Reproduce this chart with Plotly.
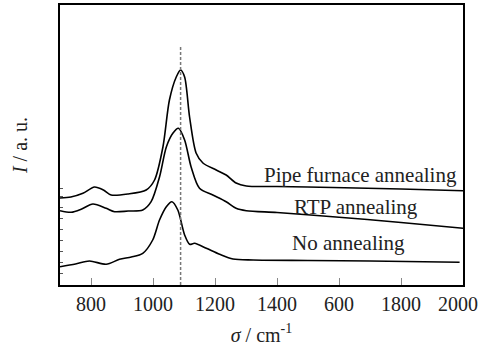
import plotly.graph_objects as go

# Wavenumber (cm^-1) and intensity (a.u.)
pipe_x = [700, 735, 774, 811, 840, 865, 920, 978, 1005, 1032, 1053, 1075, 1089, 1102, 1118, 1139, 1161, 1204, 1236, 1268, 1301, 1400, 1580, 1800, 2000]
pipe_y = [87, 88, 91.7, 98, 95, 90, 91, 95, 105, 138, 185, 208, 215, 208, 168, 132, 122, 115, 110, 102, 99, 98.5, 97.5, 96, 94.3]

rtp_x = [700, 736, 770, 806, 849, 876, 920, 967, 994, 1021, 1043, 1064, 1082, 1102, 1123, 1150, 1193, 1236, 1268, 1301, 1400, 1580, 1800, 2000]
rtp_y = [74.3, 72.7, 76, 81, 76.7, 73.3, 74, 75, 83.3, 108, 138, 151.7, 156.7, 145, 118, 96.7, 90, 83.3, 76.7, 74.3, 72.5, 68.3, 62.5, 56.7]

no_x = [700, 750, 795, 849, 892, 930, 967, 999, 1021, 1043, 1061, 1080, 1102, 1118, 1134, 1172, 1215, 1258, 1323, 1500, 1700, 1989]
no_y = [18.3, 21, 24, 20.7, 25.7, 28, 31.7, 45, 65, 78.3, 83.3, 75, 50, 40.7, 41.7, 36.7, 30.7, 26, 25, 24.5, 24, 22.7]

peak_pos = 1089
tick_vals = [800, 1000, 1200, 1400, 1600, 1800, 2000]
tick_text = ["800", "1000", "1200", "1400", "600", "1800", "2000&nbsp;&nbsp;"]
labels = ["Pipe furnace annealing", "RTP annealing", "No annealing"]
label_x = [1668, 1655, 1631]
label_y = [110, 78, 42]

FONT = "Liberation Serif"
TXT = "#222222"

fig = go.Figure()
for xs, ys in [(pipe_x, pipe_y), (rtp_x, rtp_y), (no_x, no_y)]:
    fig.add_trace(go.Scatter(x=xs, y=ys, mode="lines",
                             line=dict(color="black", width=1.6, shape="spline", smoothing=0.8),
                             showlegend=False, hoverinfo="skip"))

fig.add_shape(type="line", xref="x", yref="y", x0=peak_pos, x1=peak_pos, y0=0, y1=238,
              line=dict(color="#777777", width=1.5, dash="3px,2px"))

for t, lx, ly in zip(labels, label_x, label_y):
    fig.add_annotation(x=lx, y=ly, text=t, showarrow=False, xref="x", yref="y",
                       font=dict(family=FONT, size=21, color=TXT),
                       xanchor="center", yanchor="middle")

fig.update_layout(
    template="none",
    width=481, height=346,
    margin=dict(l=60, r=18, t=5, b=61),
    paper_bgcolor="white", plot_bgcolor="white",
    font=dict(family=FONT, size=20, color=TXT),
    xaxis=dict(range=[700, 2000], tickvals=tick_vals, ticktext=tick_text,
               ticks="inside", ticklen=7, tickcolor="#888888", tickwidth=1,
               ticklabeloverflow="allow", automargin=False,
               showline=True, linecolor="black", linewidth=1.5, mirror=True,
               showgrid=False, zeroline=False,
               tickfont=dict(family=FONT, size=20, color=TXT),
               title=dict(text="<i>σ</i> / cm<sup>-1</sup>", standoff=14,
                          font=dict(family=FONT, size=20, color=TXT))),
    yaxis=dict(range=[0, 280], tickvals=[12, 23, 34, 45, 56, 67, 78, 89, 97],
               ticks="inside", ticklen=3, tickcolor="#555555", showticklabels=False,
               automargin=False,
               showline=True, linecolor="black", linewidth=1.5, mirror=True,
               showgrid=False, zeroline=False,
               title=dict(text="<i>I</i> / a. u.", standoff=25,
                          font=dict(family=FONT, size=20, color=TXT))),
)

fig.write_html("out.html")
